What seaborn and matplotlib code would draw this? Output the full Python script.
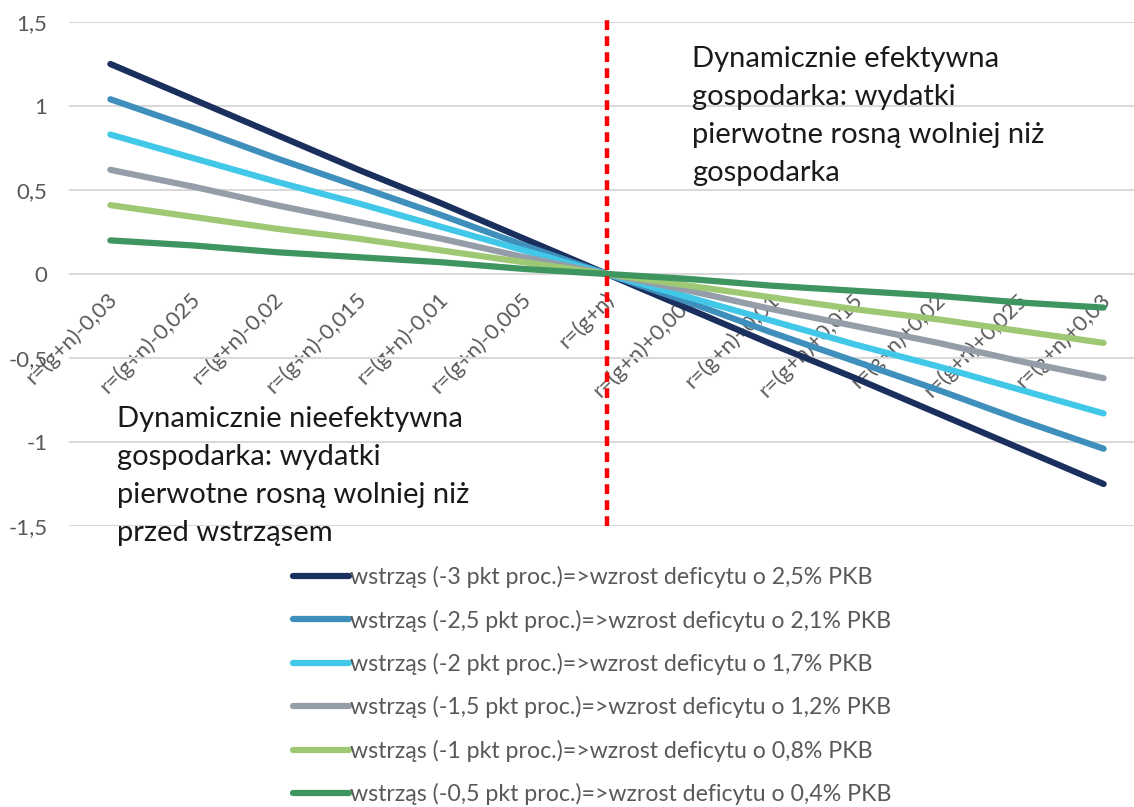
import matplotlib
matplotlib.use("Agg")
import matplotlib.pyplot as plt
import matplotlib.transforms as mtransforms
import seaborn as sns
import pandas as pd

# Category labels (interest-rate gap) on the x axis
categories = [
    "r=(g+n)-0,03", "r=(g+n)-0,025", "r=(g+n)-0,02", "r=(g+n)-0,015",
    "r=(g+n)-0,01", "r=(g+n)-0,005", "r=(g+n)", "r=(g+n)+0,005",
    "r=(g+n)+0,01", "r=(g+n)+0,015", "r=(g+n)+0,02", "r=(g+n)+0,025",
    "r=(g+n)+0,03",
]

series_names = [
    "wstrząs (-3 pkt proc.)=>wzrost deficytu o 2,5% PKB",
    "wstrząs (-2,5 pkt proc.)=>wzrost deficytu o 2,1% PKB",
    "wstrząs (-2 pkt proc.)=>wzrost deficytu o 1,7% PKB",
    "wstrząs (-1,5 pkt proc.)=>wzrost deficytu o 1,2% PKB",
    "wstrząs (-1 pkt proc.)=>wzrost deficytu o 0,8% PKB",
    "wstrząs (-0,5 pkt proc.)=>wzrost deficytu o 0,4% PKB",
]

shock_3_0 = [1.25, 1.04, 0.83, 0.62, 0.42, 0.21, 0.0, -0.21, -0.42, -0.62, -0.83, -1.04, -1.25]
shock_2_5 = [1.04, 0.87, 0.69, 0.52, 0.35, 0.17, 0.0, -0.17, -0.35, -0.52, -0.69, -0.87, -1.04]
shock_2_0 = [0.83, 0.69, 0.55, 0.42, 0.28, 0.14, 0.0, -0.14, -0.28, -0.42, -0.55, -0.69, -0.83]
shock_1_5 = [0.62, 0.52, 0.41, 0.31, 0.21, 0.10, 0.0, -0.10, -0.21, -0.31, -0.41, -0.52, -0.62]
shock_1_0 = [0.41, 0.34, 0.27, 0.21, 0.14, 0.07, 0.0, -0.07, -0.14, -0.21, -0.27, -0.34, -0.41]
shock_0_5 = [0.20, 0.17, 0.13, 0.10, 0.07, 0.03, 0.0, -0.03, -0.07, -0.10, -0.13, -0.17, -0.20]

colors = ["#1b2f5e", "#3f8fbc", "#41c8e8", "#959ea8", "#9fc875", "#3e955f"]

y_ticks = [-1.5, -1.0, -0.5, 0.0, 0.5, 1.0, 1.5]
y_tick_labels = ["-1,5", "-1", "-0,5", "0", "0,5", "1", "1,5"]

text_right = "Dynamicznie efektywna\ngospodarka: wydatki\npierwotne rosną wolniej niż\ngospodarka"
text_left = "Dynamicznie nieefektywna\ngospodarka: wydatki\npierwotne rosną wolniej niż\nprzed wstrząsem"

# Long-form table for seaborn
all_values = [shock_3_0, shock_2_5, shock_2_0, shock_1_5, shock_1_0, shock_0_5]
rows = []
for name, vals in zip(series_names, all_values):
    for cat, v in zip(categories, vals):
        rows.append({"kategoria": cat, "wartosc": v, "seria": name})
df = pd.DataFrame(rows)

sns.set_theme(style="white")
plt.rcParams["font.family"] = ["Lato", "DejaVu Sans"]

W, H = 1134, 807
fig = plt.figure(figsize=(W / 100, H / 100), dpi=100)
ax = fig.add_axes([69 / W, 1 - 526 / H, 1076 / W, 504 / H])

sns.lineplot(data=df, x="kategoria", y="wartosc", hue="seria",
             hue_order=series_names, palette=colors, sort=False,
             linewidth=4.5, ax=ax, legend=True)
for ln in ax.lines:
    ln.set_solid_capstyle("round")

ax.set_xlim(-0.5, len(categories) - 0.5)
ax.set_ylim(-1.5, 1.5)
ax.set_yticks(y_ticks)
ax.set_yticklabels(y_tick_labels)
ax.yaxis.grid(True, color="#d9d9d9", linewidth=1.5)
ax.xaxis.grid(False)
ax.set_axisbelow(True)
for s in ax.spines.values():
    s.set_visible(False)
ax.spines["bottom"].set_position(("data", 0))
ax.set_xlabel("")
ax.set_ylabel("")

ax.tick_params(axis="y", length=0, pad=15.5, labelsize=16, labelcolor="#595959")
ax.tick_params(axis="x", length=0, pad=16, labelsize=15.8, labelcolor="#595959")
shift = mtransforms.ScaledTranslation(4 / 100, 0, fig.dpi_scale_trans)
for lab in ax.get_xticklabels():
    lab.set_rotation(45)
    lab.set_ha("right")
    lab.set_va("center")
    lab.set_rotation_mode("anchor")
    lab.set_transform(lab.get_transform() + shift)

# Vertical divider at r = g + n
ax.axvline(categories.index("r=(g+n)"), ymin=0, ymax=1.008, color="#ff0000",
           linewidth=3.2, linestyle=(0, (2.2, 1.4)), clip_on=False, zorder=5)

fig.text(692 / W, 1 - 46 / H, text_right, fontsize=21, color="#1a1a1a",
         va="top", ha="left", linespacing=1.57)
fig.text(117 / W, 1 - 406 / H, text_left, fontsize=21, color="#1a1a1a",
         va="top", ha="left", linespacing=1.57)

handles, labels = ax.get_legend_handles_labels()
ax.get_legend().remove()
leg = fig.legend(handles, labels, loc="upper left",
                 bbox_to_anchor=(293 / W, 1 - 566 / H), frameon=False,
                 fontsize=16.7, handlelength=2.4, handletextpad=0.05,
                 labelspacing=0.92, borderpad=0, borderaxespad=0,
                 labelcolor="#595959")
for h in leg.get_lines():
    h.set_linewidth(4.5)

fig.savefig("out.png", dpi=100)
